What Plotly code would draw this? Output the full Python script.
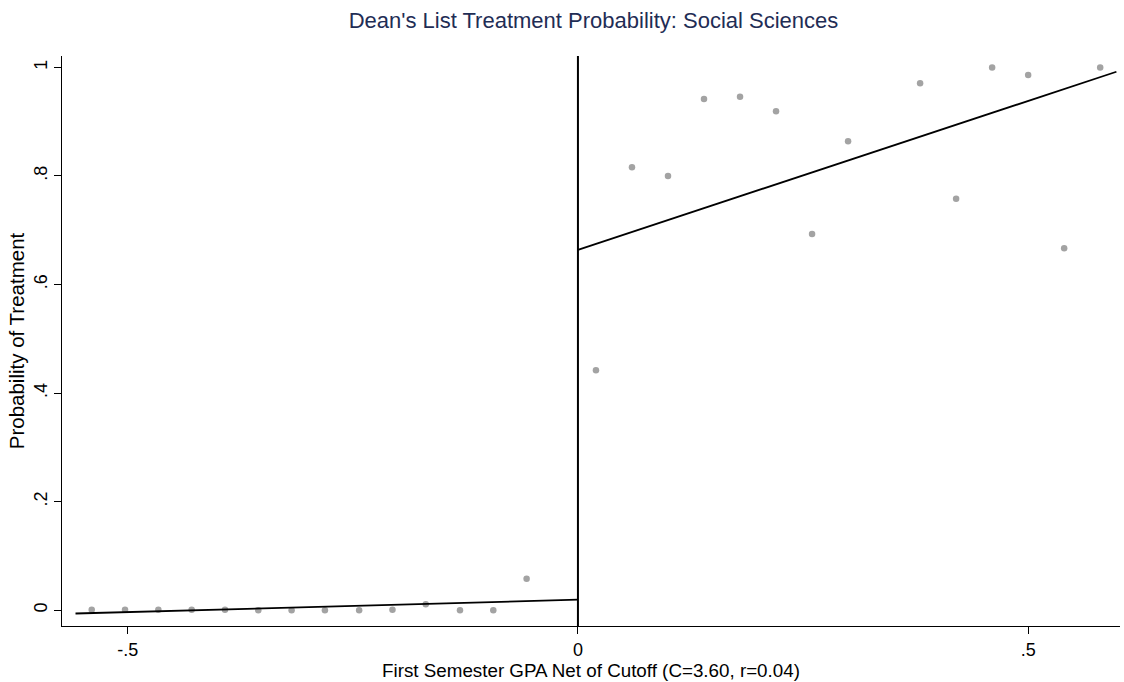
import plotly.graph_objects as go

# Binned treatment rates, below and above the cutoff
x_left = [-0.540, -0.503, -0.466, -0.429, -0.392, -0.355, -0.318,
          -0.281, -0.243, -0.206, -0.169, -0.131, -0.094, -0.057]
y_left = [0.001, 0.001, 0.001, 0.001, 0.001, 0.0, 0.0,
          0.0, 0.0, 0.001, 0.011, 0.0, 0.0, 0.058]

x_right = [0.02, 0.06, 0.10, 0.14, 0.18, 0.22, 0.26, 0.30,
           0.38, 0.42, 0.46, 0.50, 0.54, 0.58]
y_right = [0.442, 0.816, 0.800, 0.942, 0.946, 0.919, 0.693, 0.864,
           0.971, 0.758, 1.000, 0.986, 0.667, 1.000]

# Linear fits on each side of the cutoff (endpoints)
fit_left_x = [-0.558, 0.0]
fit_left_y = [-0.006, 0.0195]
fit_right_x = [0.0, 0.598]
fit_right_y = [0.664, 0.992]

x_ticks = [-0.5, 0, 0.5]
x_tick_text = ["-.5", "0", ".5"]
y_ticks = [0, 0.2, 0.4, 0.6, 0.8, 1.0]
y_tick_text = ["0", ".2", ".4", ".6", ".8", "1"]

font_family = "Liberation Sans, Arial, sans-serif"
dot_color = "#a3a3a3"

fig = go.Figure()
for xs, ys in ((x_left, y_left), (x_right, y_right)):
    fig.add_trace(go.Scatter(x=xs, y=ys, mode="markers",
                             marker=dict(color=dot_color, size=6.5),
                             showlegend=False, hoverinfo="skip"))
for xs, ys in ((fit_left_x, fit_left_y), (fit_right_x, fit_right_y)):
    fig.add_trace(go.Scatter(x=xs, y=ys, mode="lines",
                             line=dict(color="black", width=1.8),
                             showlegend=False, hoverinfo="skip"))

# Cutoff marker
fig.add_shape(type="line", xref="x", yref="paper", x0=0, x1=0, y0=0, y1=1,
              line=dict(color="black", width=2))

fig.update_layout(
    width=1124, height=682,
    margin=dict(l=62, r=4, t=56, b=56),
    paper_bgcolor="white", plot_bgcolor="white",
    font=dict(family=font_family, size=18, color="black"),
    title=dict(text="Dean's List Treatment Probability: Social Sciences",
               x=0.528, xanchor="center", y=0.97, yanchor="middle",
               font=dict(family=font_family, size=22, color="#1f2d55")),
    xaxis=dict(range=[-0.573, 0.602], tickvals=x_ticks, ticktext=x_tick_text,
               showgrid=False, zeroline=False, showline=True,
               linecolor="black", linewidth=1, ticks="outside", ticklen=7,
               tickcolor="black", tickfont=dict(size=18),
               title=dict(text="First Semester GPA Net of Cutoff (C=3.60, r=0.04)",
                          font=dict(size=18.8), standoff=2)),
    yaxis=dict(range=[-0.029, 1.021], tickvals=y_ticks, ticktext=y_tick_text,
               showgrid=False, zeroline=False, showline=True,
               linecolor="black", linewidth=1, ticks="outside", ticklen=7,
               tickcolor="black", tickangle=-90, tickfont=dict(size=18),
               title=dict(text="Probability of Treatment",
                          font=dict(size=20.5), standoff=0)),
)

fig.write_html("out.html")
